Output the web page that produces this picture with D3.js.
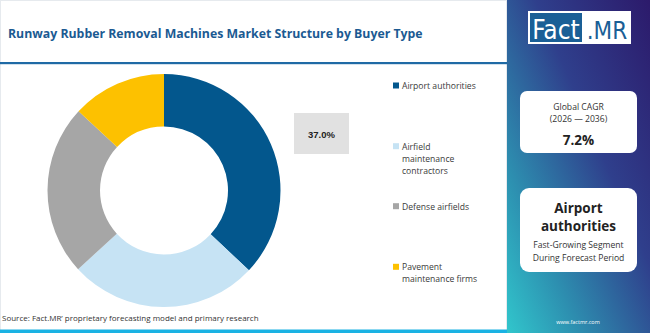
<!DOCTYPE html>
<html>
<head>
<meta charset="utf-8">
<script src="https://cdn.jsdelivr.net/npm/d3@7"></script>
<style>
  body { margin: 0; padding: 0; background: #fff; }
  svg { display: block; font-family: "Open Sans", sans-serif; }
</style>
</head>
<body>
<div id="chart"></div>
<script>
// data
var segments = ["Airport authorities", "Airfield maintenance contractors", "Defense airfields", "Pavement maintenance firms"];
var shares = [37.0, 26.2, 23.7, 13.1];
var segColors = ["#03578d", "#c6e3f4", "#a6a6a6", "#fdc100"];
var legendLines = [["Airport authorities"], ["Airfield", "maintenance", "contractors"], ["Defense airfields"], ["Pavement", "maintenance firms"]];
var cagrLabel = ["Global CAGR", "(2026 \u2014 2036)"];
var cagrValue = "7.2%";
var fastSeg = ["Airport", "authorities"];
var fastSub = ["Fast-Growing Segment", "During Forecast Period"];

var W = 650, H = 333, panelX = 507;

var svg = d3.select("#chart").append("svg")
  .attr("width", W).attr("height", H);

var defs = svg.append("defs");
var grad = defs.append("linearGradient")
  .attr("id", "side").attr("x1", "100%").attr("y1", "0%").attr("x2", "0%").attr("y2", "100%");
grad.append("stop").attr("offset", "0%").attr("stop-color", "#2c1a6b");
grad.append("stop").attr("offset", "40%").attr("stop-color", "#2f3f8c");
grad.append("stop").attr("offset", "75%").attr("stop-color", "#2d8fb0");
grad.append("stop").attr("offset", "100%").attr("stop-color", "#31c6cc");

// main white area, faint frame
svg.append("rect").attr("x", 0.5).attr("y", 0.5).attr("width", panelX - 1).attr("height", H - 1)
  .style("fill", "#fff").style("stroke", "#e6eaee");

// title
svg.append("text")
  .attr("x", 8).attr("y", 38)
  .style("font-size", "12.3px").style("font-weight", "bold").style("fill", "#1b5a92")
  .text("Runway Rubber Removal Machines Market Structure by Buyer Type");

svg.append("rect").attr("x", 0).attr("y", 62).attr("width", panelX).attr("height", 2.2)
  .style("fill", "#1f6aa5");

// bottom stripe
svg.append("rect").attr("x", 0).attr("y", 329.5).attr("width", panelX).attr("height", 3.5)
  .style("fill", "#1ab2e3");

// donut
var cx = 164, cy = 190.5;
var pie = d3.pie().sort(null).value(function(d) { return d; });
var arc = d3.arc().innerRadius(64).outerRadius(116.5);

var g = svg.append("g").attr("transform", "translate(" + cx + "," + cy + ")");
g.selectAll("path")
  .data(pie(shares))
  .enter()
  .append("path")
  .attr("d", arc)
  .style("fill", function(d, i) { return segColors[i]; });

// value label box
svg.append("rect").attr("x", 294).attr("y", 113).attr("width", 55).attr("height", 41)
  .style("fill", "#e1e1e1");
svg.append("text").attr("x", 321.5).attr("y", 137.5)
  .style("text-anchor", "middle").style("font-size", "9.5px").style("font-weight", "bold").style("fill", "#222")
  .style("font-family", "Liberation Sans, Arial, sans-serif")
  .text(shares[0].toFixed(1) + "%");

// legend
var legendY = [86, 146.7, 206.7, 267.3];
legendLines.forEach(function(lines, i) {
  svg.append("rect").attr("x", 393).attr("y", legendY[i] - 3.5).attr("width", 6).attr("height", 6)
    .style("fill", segColors[i]);
  var t = svg.append("text").attr("x", 402).attr("y", legendY[i] + 3)
    .style("font-size", "8.6px").style("fill", "#3a3a3a");
  lines.forEach(function(l, j) {
    t.append("tspan").attr("x", 402).attr("dy", j == 0 ? 0 : 12).text(l);
  });
});

// source
svg.append("text").attr("x", 2).attr("y", 321)
  .style("font-size", "8px").style("fill", "#333")
  .text("Source: Fact.MR\u2019 proprietary forecasting model and primary research");

// side panel
svg.append("rect").attr("x", panelX).attr("y", 0).attr("width", W - panelX).attr("height", H)
  .style("fill", "url(#side)");

// logo
svg.append("rect").attr("x", 528).attr("y", 11).attr("width", 103).attr("height", 33).style("fill", "#fff");
svg.append("rect").attr("x", 530).attr("y", 13).attr("width", 52).attr("height", 29).style("fill", "#1a5f96");
svg.append("text").attr("x", 556).attr("y", 38.5).style("text-anchor", "middle")
  .style("font-size", "26px").style("fill", "#fff").style("font-family", "Liberation Sans Narrow, DejaVu Sans Condensed, sans-serif")
  .text("Fact");
svg.append("text").attr("x", 607).attr("y", 38.5).style("text-anchor", "middle")
  .style("font-size", "24px").style("fill", "#1a5f96").style("font-family", "Liberation Sans Narrow, DejaVu Sans Condensed, sans-serif")
  .text(".MR");

// cagr card
svg.append("rect").attr("x", 520).attr("y", 91).attr("width", 117).attr("height", 62).attr("rx", 7)
  .style("fill", "#fff");
cagrLabel.forEach(function(l, i) {
  svg.append("text").attr("x", 578.5).attr("y", 110 + i * 11.5).style("text-anchor", "middle")
    .style("font-size", "8.6px").style("fill", "#333").text(l);
});
svg.append("text").attr("x", 578.5).attr("y", 145).style("text-anchor", "middle")
  .style("font-size", "13.5px").style("font-weight", "bold").style("fill", "#222").text(cagrValue);

// fastest segment card
svg.append("rect").attr("x", 520).attr("y", 188).attr("width", 117).attr("height", 84).attr("rx", 9)
  .style("fill", "#fff");
fastSeg.forEach(function(l, i) {
  svg.append("text").attr("x", 578.5).attr("y", 213 + i * 18).style("text-anchor", "middle")
    .style("font-size", "13.5px").style("font-weight", "bold").style("fill", "#222").text(l);
});
fastSub.forEach(function(l, i) {
  svg.append("text").attr("x", 578.5).attr("y", 248 + i * 12.5).style("text-anchor", "middle")
    .style("font-size", "8.6px").style("fill", "#333").text(l);
});

svg.append("text").attr("x", 578).attr("y", 324).style("text-anchor", "middle")
  .style("font-size", "5.5px").style("fill", "#fff").text("www.factmr.com");
</script>
</body>
</html>
